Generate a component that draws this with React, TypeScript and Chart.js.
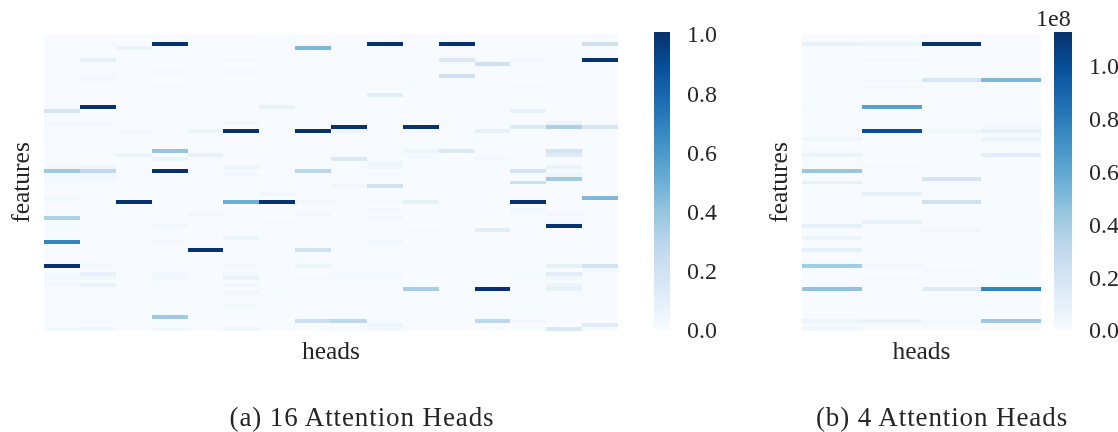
import React, { useEffect, useRef } from "react";
import { Chart, registerables } from "chart.js";

Chart.register(...registerables);

const SERIF = '"Liberation Serif", serif';
const INK = "#262626";
const ROW_COUNT = 75;

// Matplotlib "Blues" anchors
const blues = ["#f7fbff", "#deebf7", "#c6dbef", "#9ecae1", "#6baed6", "#4292c6", "#2171b5", "#08519c", "#08306b"];

// Panel (a): sparse [feature row, attention] pairs for each of the 16 heads
const a00: [number, number][] = [[8,.01],[19,.17],[22,.02],[25,.01],[33,.02],[34,.38],[35,.02],[36,.01],[37,.02],[41,.03],[42,.01],[46,.33],[48,.01],[52,.68],[58,1],[60,.01],[61,.03],[63,.02],[74,.03]];
const a01: [number, number][] = [[2,.01],[6,.09],[10,.02],[11,.02],[18,1],[22,.025],[30,.01],[33,.04],[34,.27],[35,.04],[36,.02],[50,.01],[58,.02],[60,.07],[61,.03],[63,.06],[69,.01],[72,.02],[74,.03]];
const a02: [number, number][] = [[3,.05],[24,.02],[30,.05],[34,.015],[42,1]];
const a03: [number, number][] = [[2,1],[6,.01],[9,.02],[13,.015],[18,.01],[29,.4],[31,.06],[34,1],[42,.01],[48,.03],[52,.02],[54,.01],[60,.02],[61,.02],[71,.38],[74,.02]];
const a04: [number, number][] = [[24,.05],[30,.07],[37,.01],[45,.03],[54,1],[58,.01]];
const a05: [number, number][] = [[6,.015],[9,.02],[13,.01],[22,.03],[24,1],[33,.05],[35,.035],[42,.5],[51,.05],[58,.02],[60,.02],[61,.07],[63,.03],[65,.04],[68,.02],[74,.04]];
const a06: [number, number][] = [[1,.01],[18,.07],[33,.01],[40,.04],[42,1],[47,.015],[64,.01],[73,.015]];
const a07: [number, number][] = [[3,.46],[18,.01],[24,1],[34,.28],[42,.03],[45,.03],[54,.2],[58,.05],[61,.015],[63,.01],[72,.22]];
const a08: [number, number][] = [[23,1],[24,.05],[30,.01],[31,.14],[33,.01],[38,.03],[40,.01],[42,.01],[58,.01],[60,.015],[61,.015],[63,.01],[72,.28],[74,.01]];
const a09: [number, number][] = [[2,1],[11,.01],[15,.1],[22,.01],[32,.04],[33,.04],[35,.025],[38,.2],[42,.015],[44,.02],[46,.03],[52,.03],[58,.01],[60,.015],[61,.015],[63,.01],[73,.05],[74,.02]];
const a10: [number, number][] = [[23,1],[24,.03],[29,.05],[30,.01],[42,.08],[49,.015],[58,.005],[64,.35]];
const a11: [number, number][] = [[2,1],[6,.14],[10,.21],[29,.14],[58,.005]];
const a12: [number, number][] = [[7,.2],[11,.01],[18,.01],[24,.08],[31,.02],[49,.11],[58,.005],[64,1],[72,.28]];
const a13: [number, number][] = [[6,.02],[13,.015],[19,.08],[23,.13],[26,.01],[34,.18],[37,.22],[42,1],[44,.03],[45,.01],[53,.01],[60,.01],[65,.01],[68,.01],[72,.03],[74,.01]];
const a14: [number, number][] = [[22,.05],[23,.33],[29,.18],[30,.12],[33,.06],[34,.015],[35,.05],[36,.37],[45,.03],[47,.02],[48,1],[58,.09],[60,.1],[61,.03],[63,.05],[64,.08],[74,.14]];
const a15: [number, number][] = [[2,.2],[6,1],[12,.01],[23,.17],[33,.01],[35,.01],[41,.46],[58,.19],[59,.03],[61,.01],[73,.12]];

// Panel (b): the same pairs for the 4 heads, in units of 1e8
const b00: [number, number][] = [[2,.08],[9,.02],[18,.015],[26,.045],[29,.02],[30,.07],[32,.01],[34,.44],[37,.09],[48,.11],[51,.055],[54,.11],[57,.015],[58,.41],[63,.01],[64,.46],[72,.055],[74,.035]];
const b01: [number, number][] = [[2,.07],[6,.015],[11,.015],[13,.015],[18,.63],[22,.015],[24,1],[30,.01],[33,.015],[35,.02],[40,.09],[47,.08],[58,.035],[61,.02],[63,.02],[72,.07]];
const b02: [number, number][] = [[2,1.13],[11,.19],[24,.045],[36,.19],[42,.23],[49,.035],[59,.02],[61,.01],[64,.135],[72,.02]];
const b03: [number, number][] = [[11,.52],[23,.035],[24,.1],[26,.055],[30,.125],[32,.01],[58,.01],[60,.01],[64,.77],[72,.43]];

const headsA = [a00,a01,a02,a03,a04,a05,a06,a07,a08,a09,a10,a11,a12,a13,a14,a15];
const headsB = [b00,b01,b02,b03];

// Colour bars
const ticksA = [0, 0.2, 0.4, 0.6, 0.8, 1];
const ticksB = [0, 0.2, 0.4, 0.6, 0.8, 1];
const maxA = 1.007;
const maxB = 1.129;

const rowLabels = Array.from({ length: ROW_COUNT }, (_, i) => String(i));

function hex(c: string) {
  return [1, 3, 5].map((i) => parseInt(c.slice(i, i + 2), 16));
}
function colorOf(t: number) {
  const p = Math.min(1, Math.max(0, t)) * (blues.length - 1);
  const i = Math.min(blues.length - 2, Math.floor(p));
  const f = p - i;
  const a = hex(blues[i]);
  const b = hex(blues[i + 1]);
  return `rgb(${a.map((v, k) => Math.round(v + (b[k] - v) * f)).join(",")})`;
}

const plotBackground = {
  id: "plotBackground",
  beforeDatasetsDraw(chart: any) {
    const { ctx, chartArea: c } = chart;
    ctx.save();
    ctx.fillStyle = blues[0];
    ctx.fillRect(c.left, c.top, c.right - c.left, c.bottom - c.top);
    ctx.restore();
    // Snap the scale-derived cell edges to whole pixels so cells stay crisp.
    chart.getSortedVisibleDatasetMetas().forEach((meta: any) => {
      meta.data.forEach((el: any) => {
        const top = Math.round(el.y - el.height / 2);
        const bottom = Math.round(el.y + el.height / 2);
        el.y = (top + bottom) / 2;
        el.height = bottom - top;
        el.x = Math.round(el.x);
        el.base = Math.round(el.base);
      });
    });
  },
};

// Moves the tick labels down so that the digits centre on their tick value.
const labelNudge = {
  id: "labelNudge",
  beforeDraw(chart: any) {
    chart.scales.y.getLabelItems().forEach((item: any) => {
      if (!item.nudged) {
        item.options.translation[1] += 2;
        item.nudged = true;
      }
    });
  },
};

function makeHeatmap(
  canvas: HTMLCanvasElement,
  heads: [number, number][][],
  vmax: number,
  box: { w: number; left: number; top: number; plotW: number; plotBottom: number; featurePad: number },
) {
  const datasets = heads.map((pairs, col) => {
    const byRow = new Map(pairs);
    const values = rowLabels.map((_, r) => byRow.get(r) ?? 0);
    return {
      label: `head ${col + 1}`,
      data: values.map(() => [col, col + 1]),
      backgroundColor: values.map((v) => colorOf(v / vmax)),
      borderWidth: 0,
      inflateAmount: 0,
      barPercentage: 1,
      categoryPercentage: 1,
      grouped: false,
    };
  });
  return new Chart(canvas, {
    type: "bar",
    data: { labels: rowLabels, datasets: datasets as any },
    plugins: [plotBackground],
    options: {
      indexAxis: "y",
      animation: false,
      responsive: false,
      devicePixelRatio: 1,
      layout: { padding: { top: box.top, left: 0, right: box.w - box.left - box.plotW, bottom: 0 } },
      plugins: {
        legend: { display: false },
        tooltip: { enabled: false },
      },
      scales: {
        x: {
          type: "linear",
          min: 0,
          max: heads.length,
          grid: { display: false },
          border: { display: false },
          ticks: { display: false },
          title: {
            display: true,
            text: "heads",
            color: INK,
            font: { family: SERIF, size: 25.5 },
            padding: { top: 0, bottom: 64 },
          },
          afterFit(scale: any) {
            scale.height = 432 - box.plotBottom;
          },
        },
        y: {
          type: "category",
          grid: { display: false },
          border: { display: false },
          ticks: { display: false },
          title: {
            display: true,
            text: "features",
            color: INK,
            font: { family: SERIF, size: 25.5 },
            padding: { top: box.featurePad, bottom: 0 },
          },
          afterFit(scale: any) {
            scale.width = box.left;
          },
        },
      },
    } as any,
  });
}

function makeColorbar(canvas: HTMLCanvasElement, vmax: number, ticks: number[]) {
  return new Chart(canvas, {
    type: "bar",
    data: {
      labels: ["scale"],
      datasets: [
        {
          data: [[0, vmax]],
          borderWidth: 0,
          barPercentage: 1,
          categoryPercentage: 1,
          backgroundColor(ctx: any) {
            const area = ctx.chart.chartArea;
            if (!area) return blues[4];
            const g = ctx.chart.ctx.createLinearGradient(0, area.bottom, 0, area.top);
            blues.forEach((c, i) => g.addColorStop(i / (blues.length - 1), c));
            return g;
          },
        } as any,
      ],
    },
    plugins: [labelNudge],
    options: {
      animation: false,
      responsive: false,
      devicePixelRatio: 1,
      layout: { padding: { top: 32, bottom: 432 - 330 } },
      plugins: {
        legend: { display: false },
        tooltip: { enabled: false },
      },
      scales: {
        x: { display: false },
        y: {
          position: "right",
          min: 0,
          max: vmax,
          afterBuildTicks(scale: any) {
            scale.ticks = ticks.map((value) => ({ value }));
          },
          grid: { display: false },
          border: { display: false },
          ticks: {
            color: INK,
            padding: 9,
            autoSkip: false,
            maxRotation: 0,
            font: { family: SERIF, size: 24 },
            callback: (v: any) => Number(v).toFixed(1),
          },
          title: { display: false },
          afterFit(scale: any) {
            scale.width = 70;
          },
        },
      },
    } as any,
  });
}

const abs = (left: number, width: number): React.CSSProperties => ({
  position: "absolute",
  left,
  top: 0,
  width,
  height: 432,
});

const caption = (centre: number, text: string) => (
  <div
    style={{
      position: "absolute",
      left: centre - 200,
      width: 400,
      top: 402,
      textAlign: "center",
      fontFamily: SERIF,
      fontSize: 27,
      letterSpacing: "0.9px",
      lineHeight: "30px",
      color: INK,
      whiteSpace: "nowrap",
    }}
  >
    {text}
  </div>
);

export default function App() {
  const hA = useRef<HTMLCanvasElement>(null);
  const hB = useRef<HTMLCanvasElement>(null);
  const cA = useRef<HTMLCanvasElement>(null);
  const cB = useRef<HTMLCanvasElement>(null);

  useEffect(() => {
    const charts = [
      makeHeatmap(hA.current!, headsA, maxA, { w: 640, left: 44, top: 34, plotW: 574, plotBottom: 331, featurePad: 7 }),
      makeHeatmap(hB.current!, headsB, maxB, { w: 290, left: 40, top: 34, plotW: 239, plotBottom: 331, featurePad: 3 }),
      makeColorbar(cA.current!, maxA, ticksA),
      makeColorbar(cB.current!, maxB, ticksB),
    ];
    return () => charts.forEach((c) => c.destroy());
  }, []);

  return (
    <div style={{ position: "fixed", left: 0, top: 0, width: 1118, height: 432, overflow: "hidden", background: "#fff" }}>
      <canvas ref={hA} width={640} height={432} style={abs(0, 640)} />
      <canvas ref={hB} width={290} height={432} style={abs(762, 290)} />
      <canvas ref={cA} width={86} height={432} style={abs(654, 86)} />
      <canvas ref={cB} width={88} height={432} style={abs(1054, 88)} />
      <div style={{ position: "absolute", left: 1036, top: 4, fontFamily: SERIF, fontSize: 24, color: INK, lineHeight: "28px" }}>1e8</div>
      {caption(362, "(a) 16 Attention Heads")}
      {caption(942, "(b) 4 Attention Heads")}
    </div>
  );
}
